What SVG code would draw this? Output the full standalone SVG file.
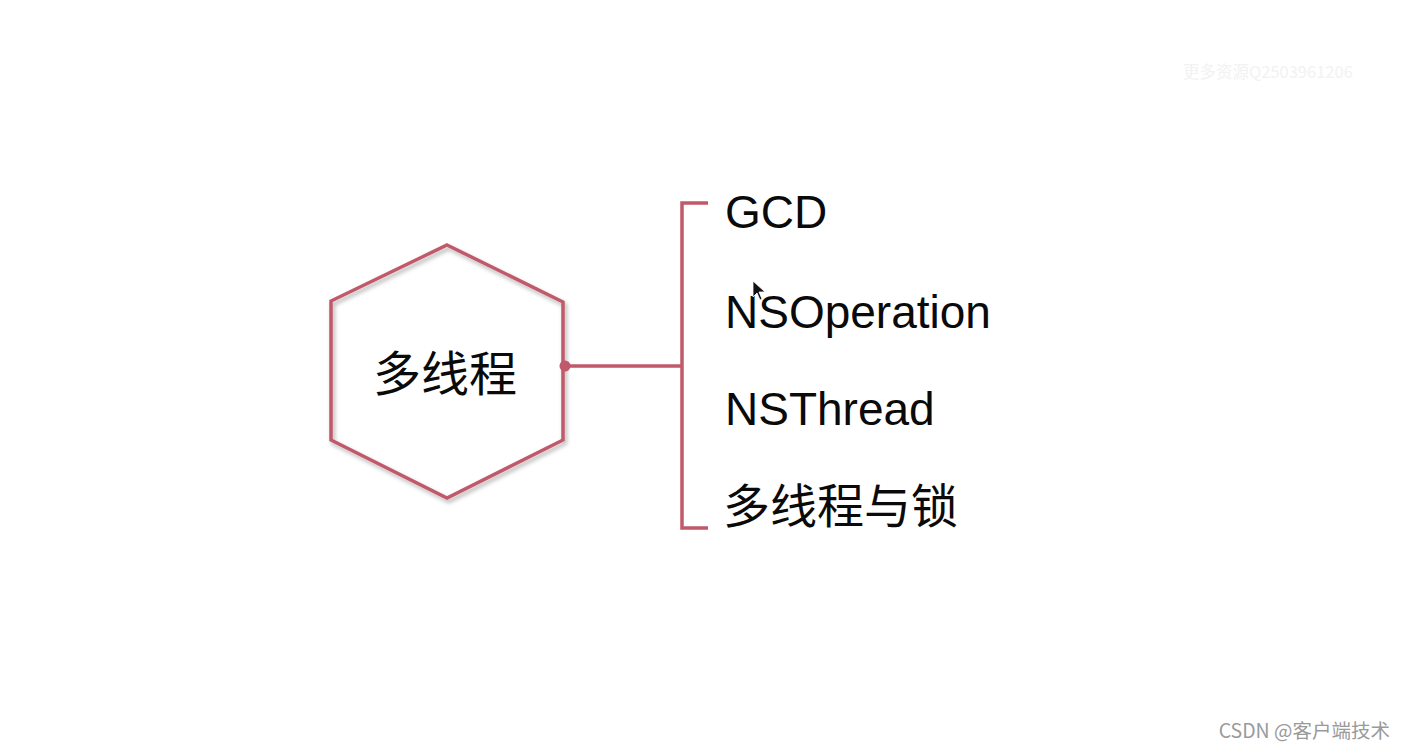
<svg xmlns="http://www.w3.org/2000/svg" width="1406" height="748" viewBox="0 0 1406 748">
  <defs>
    <style>
      .ln { fill: none; stroke: #c05a6a; stroke-width: 3.5; stroke-linecap: butt; stroke-linejoin: miter; }
      .lbl { font-family: "Liberation Sans", Arial, "Noto Sans CJK SC", sans-serif; font-size: 46px; fill: #0a0a0a; }
      .cjk { font-family: "Noto Sans CJK SC", "Liberation Sans", sans-serif; fill: #0a0a0a; }
    </style>
    <filter id="shadow" x="-10%" y="-10%" width="125%" height="125%">
      <feDropShadow dx="2" dy="3" stdDeviation="2" flood-color="#000" flood-opacity="0.3"/>
    </filter>
  </defs>
  <rect width="1406" height="748" fill="#ffffff"/>

  <g id="node-center">
    <polygon class="ln" points="447,245 563,302 563,440 447,498 331,440 331,301" fill="#ffffff" filter="url(#shadow)"/>
    <text class="cjk" x="445" y="391" text-anchor="middle" font-size="48">多线程</text>
  </g>

  <g id="connectors">
    <circle cx="565" cy="366" r="5.5" fill="#c05a6a"/>
    <line class="ln" x1="565" y1="366" x2="682" y2="366"/>
    <polyline class="ln" points="708,203 682,203 682,528 708,528"/>
  </g>

  <g id="node-gcd">
    <text class="lbl" x="725" y="228">GCD</text>
  </g>
  <g id="node-nsoperation">
    <text class="lbl" x="725" y="328">NSOperation</text>
  </g>
  <g id="node-nsthread">
    <text class="lbl" x="725" y="425">NSThread</text>
  </g>
  <g id="node-lock">
    <text class="cjk" x="723" y="523" font-size="47">多线程与锁</text>
  </g>

  <path d="M753,281 L753,297 L757,293 L760,300 L762,299 L759,292 L765,292 Z" fill="#111" stroke="#fff" stroke-width="0.8"/>

  <text x="1183" y="78" font-family="Noto Sans CJK SC, sans-serif" font-size="16.5" fill="#f2f2f2">更多资源Q2503961206</text>
  <text x="1390" y="738" text-anchor="end" font-family="Noto Sans CJK SC, sans-serif" font-size="19.5" fill="#9a9a9a">CSDN @客户端技术</text>
</svg>
